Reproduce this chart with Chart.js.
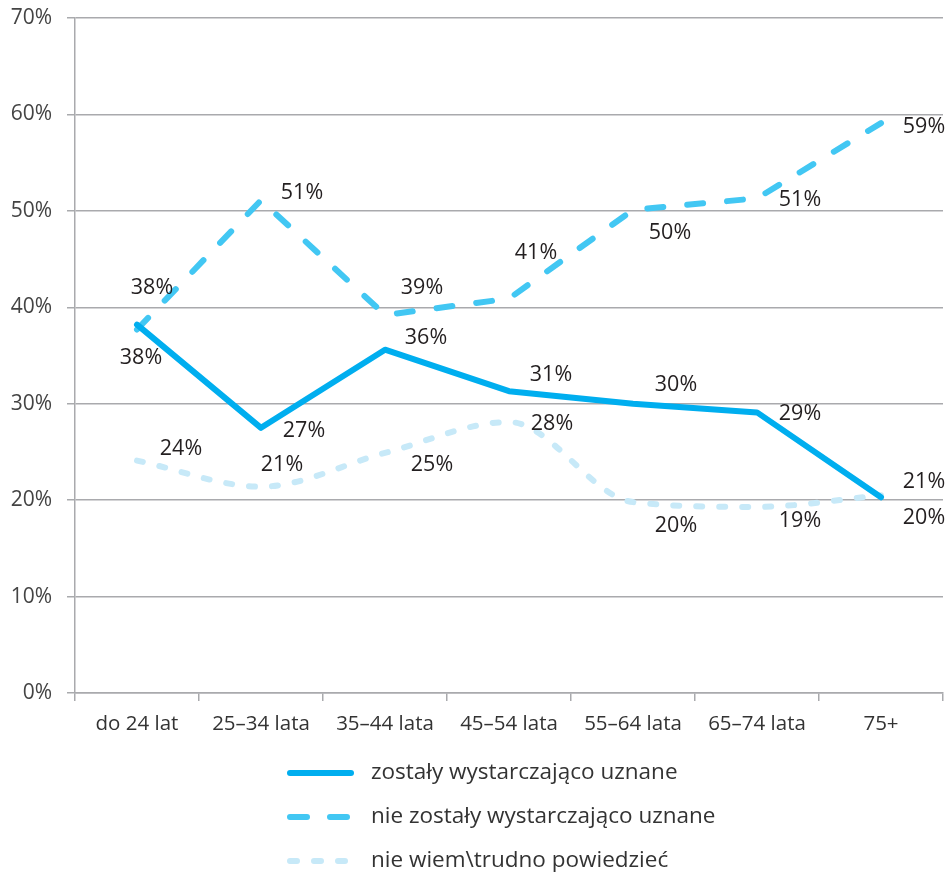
<!DOCTYPE html>
<html>
<head>
<meta charset="utf-8">
<script src="https://cdn.jsdelivr.net/npm/chart.js@4.4.1/dist/chart.umd.min.js"></script>
<style>
  body { margin: 0; background: #fff; }
  #wrap { width: 947px; height: 874px; }
</style>
</head>
<body>
<div id="wrap"><canvas id="chart" width="947" height="874"></canvas></div>
<script>
// categories and series (in %)
const categories = ['do 24 lat', '25–34 lata', '35–44 lata', '45–54 lata', '55–64 lata', '65–74 lata', '75+'];
const uznane = [38.2, 27.5, 35.6, 31.3, 30.0, 29.1, 20.3];
const nieUznane = [37.7, 51.1, 39.2, 40.9, 50.1, 51.3, 59.1];
const nieWiem = [24.1, 21.4, 24.9, 28.1, 19.8, 19.3, 20.5];
// labels printed next to each point
const uznaneLabels = [38, 27, 36, 31, 30, 29, 20];
const nieUznaneLabels = [38, 51, 39, 41, 50, 51, 59];
const nieWiemLabels = [24, 21, 25, 28, 20, 19, 21];
const yTicks = [0, 10, 20, 30, 40, 50, 60, 70];

const FONT = '"Open Sans", "DejaVu Sans", sans-serif';
const GRID = '#a9aaad';

// small plugin: value labels beside points
const pointLabels = {
  id: 'pointLabels',
  afterDatasetsDraw(chart) {
    const ctx = chart.ctx;
    ctx.save();
    ctx.font = '21.5px ' + FONT;
    ctx.fillStyle = '#231f20';
    ctx.textAlign = 'center';
    ctx.textBaseline = 'middle';
    chart.data.datasets.forEach((ds, i) => {
      const meta = chart.getDatasetMeta(i);
      meta.data.forEach((pt, j) => {
        const off = ds.labelOffsets[j];
        ctx.fillText(ds.valueLabels[j] + '%', pt.x + off[0], pt.y + off[1]);
      });
    });
    ctx.restore();
  }
};

// legend drawn under the chart, one row per series
const lineLegend = {
  id: 'lineLegend',
  afterDraw(chart) {
    const ctx = chart.ctx;
    ctx.save();
    chart.data.datasets.forEach((ds, i) => {
      const y = 773 + i * 44;
      ctx.strokeStyle = ds.borderColor;
      ctx.lineWidth = 6;
      ctx.lineCap = 'round';
      ctx.setLineDash(ds.legendDash);
      ctx.beginPath();
      ctx.moveTo(290, y);
      ctx.lineTo(351, y);
      ctx.stroke();
      ctx.setLineDash([]);
      ctx.font = '22.5px ' + FONT;
      ctx.fillStyle = '#333';
      ctx.textBaseline = 'middle';
      ctx.fillText(ds.label, 371, y);
    });
    ctx.restore();
  }
};

new Chart(document.getElementById('chart'), {
  type: 'line',
  data: {
    labels: categories,
    datasets: [
      {
        label: 'zostały wystarczająco uznane',
        data: uznane,
        valueLabels: uznaneLabels,
        labelOffsets: [[4, 33], [43, 3], [41, -12], [42, -16], [43, -19], [43, 1], [43, 21]],
        borderColor: '#00aeef',
        borderWidth: 6,
        borderJoinStyle: 'round',
        borderCapStyle: 'round',
        legendDash: [],
        tension: 0,
        pointRadius: 0
      },
      {
        label: 'nie zostały wystarczająco uznane',
        data: nieUznane,
        valueLabels: nieUznaneLabels,
        labelOffsets: [[15, -42], [41, -7], [37, -27], [27, -46], [37, 23], [43, 2], [43, 4]],
        borderColor: '#42c7f3',
        borderWidth: 6,
        borderDash: [16, 24],
        borderCapStyle: 'round',
        legendDash: [17, 23],
        tension: 0,
        pointRadius: 0
      },
      {
        label: 'nie wiem\\trudno powiedzieć',
        data: nieWiem,
        valueLabels: nieWiemLabels,
        labelOffsets: [[44, -12], [21, -22], [47, 12], [43, 2], [43, 24], [43, 14], [43, -13]],
        borderColor: '#c7e9f8',
        borderWidth: 6,
        borderDash: [6, 17],
        borderCapStyle: 'round',
        legendDash: [7, 17],
        cubicInterpolationMode: 'monotone',
        pointRadius: 0
      }
    ]
  },
  options: {
    responsive: false,
    animation: false,
    layout: { padding: { top: 18, right: 4, bottom: 0, left: 0 } },
    plugins: {
      legend: { display: false },
      tooltip: { enabled: false }
    },
    scales: {
      x: {
        offset: true,
        grid: {
          offset: true,
          drawOnChartArea: false,
          drawTicks: true,
          tickLength: 8,
          color: GRID,
          lineWidth: 1.5
        },
        border: { color: GRID, width: 1.5 },
        ticks: {
          font: { family: FONT, size: 20.5 },
          color: '#333',
          padding: 11,
          maxRotation: 0
        },
        afterFit(scale) {
          scale.height = 181;
          scale.paddingLeft = 0;
          scale.paddingRight = 0;
        }
      },
      y: {
        min: 0,
        max: 70,
        afterBuildTicks(scale) { scale.ticks = yTicks.map(v => ({ value: v })); },
        grid: { color: GRID, lineWidth: 1.5, tickLength: 8 },
        border: { color: GRID, width: 1.5 },
        ticks: {
          font: { family: FONT, size: 21 },
          color: '#444',
          padding: 15,
          callback: v => v + '%'
        },
        afterFit(scale) {
          scale.width = 75;
          scale.paddingTop = 0;
          scale.paddingBottom = 0;
        }
      }
    }
  },
  plugins: [pointLabels, lineLegend]
});
</script>
</body>
</html>
